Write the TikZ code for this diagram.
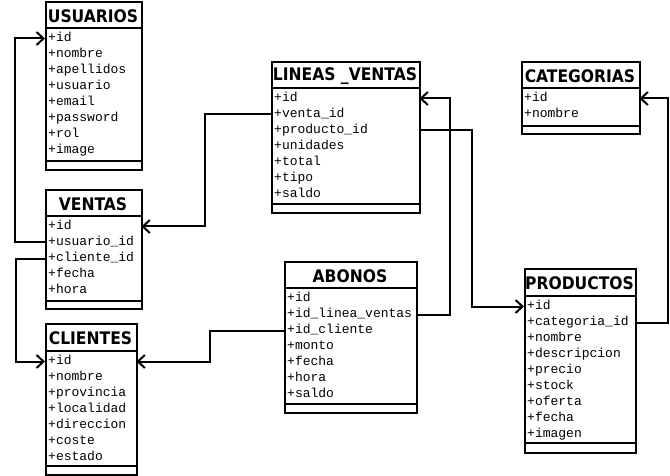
\documentclass[tikz,border=0pt]{standalone}
\usepackage{fontspec}
\setmonofont{Liberation Mono}
\newfontfamily\titlefont{DejaVu Sans Condensed Bold}
\usetikzlibrary{arrows.meta}
\newcommand{\tablebox}[9]{%
  \pgfmathsetmacro\tw{#4-#2-6}%
  \node[box, anchor=north west, minimum width={#4-#2}, minimum height={#5-#3}] (#1) at (#2,#3) {};
  \draw[line width=2pt] (#2,#6) -- (#4,#6);
  \draw[line width=2pt] (#2,#7) -- (#4,#7);
  \node[ttl] (#1-t) at ({(#2+#4)/2},{(#3+#6)/2+1.5}) {#8};
  \foreach \r [count=\i] in {#9}
    \node[row, text width=\tw pt] (#1-\i) at (#2,{#6+10.5+16*(\i-1)}) {\r};
}
\begin{document}
\begin{tikzpicture}[x=1pt,y=-1pt,
  box/.style={draw, line width=2pt, inner sep=0pt},
  row/.style={anchor=west, inner xsep=3pt, inner ysep=0pt, font=\ttfamily\fontsize{13}{13}\selectfont, text height=9pt, text depth=3pt, align=left},
  ttl/.style={inner sep=0pt, font=\titlefont\fontsize{17.3}{17.3}\selectfont},
  conn/.style={line width=2pt, -{Straight Barb[length=7pt,width=13pt]}}]
\useasboundingbox (0,0) rectangle (670,476);
\tablebox{usu}{45}{1}{141}{169}{28}{161}{USUARIOS}{+id,+nombre,+apellidos,+usuario,+email,+password,+rol,+image}
\tablebox{ven}{45}{189}{141}{308}{216}{301}{VENTAS}{+id,+usuario\_id,+cliente\_id,+fecha,+hora}
\tablebox{cli}{45}{323}{136}{474}{351}{466}{CLIENTES}{+id,+nombre,+provincia,+localidad,+direccion,+coste,+estado}
\tablebox{lv}{271}{61}{419}{212}{88}{204}{LINEAS \_VENTAS}{+id,+venta\_id,+producto\_id,+unidades,+total,+tipo,+saldo}
\tablebox{ab}{284}{261}{416}{412}{288}{404}{ABONOS}{+id,+id\_linea\_ventas,+id\_cliente,+monto,+fecha,+hora,+saldo}
\tablebox{cat}{521}{61}{639}{133}{88}{126}{CATEGORIAS}{+id,+nombre}
\tablebox{pro}{524}{268}{635}{452}{296}{443}{PRODUCTOS}{+id,+categoria\_id,+nombre,+descripcion,+precio,+stock,+oferta,+fecha,+imagen}
\draw[conn] (ven-2.west) -- ++(-30,0) |- (usu-1.west);
\draw[conn] (ven-3.west) -- ++(-29,0) |- (cli-1.west);
\draw[conn] (lv-2.west) -- ++(-66,0) |- (ven-1.east);
\draw[conn] (ab-3.west) -- ++(-74,0) |- (cli-1.east);
\draw[conn] (ab-2.east) -- ++(34,0) |- (lv-1.east);
\draw[conn] (lv-3.east) -- ++(53,0) |- (pro-1.west);
\draw[conn] (pro-2.east) -- ++(33,0) |- (cat-1.east);
\end{tikzpicture}
\end{document}
